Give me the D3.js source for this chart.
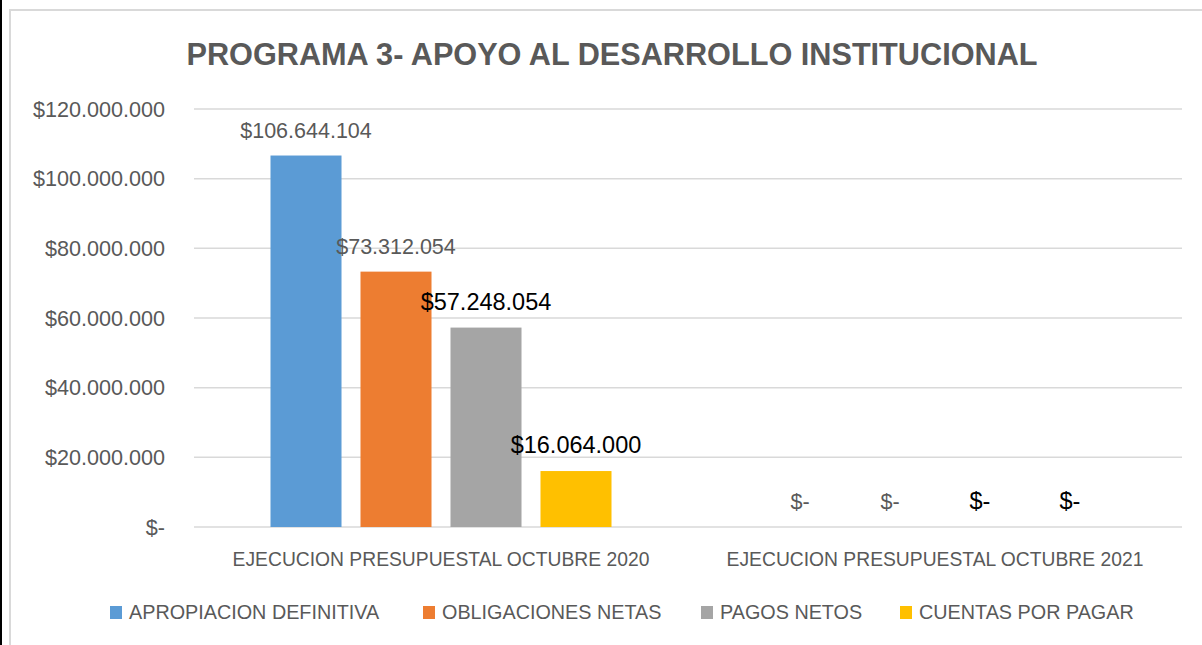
<!DOCTYPE html>
<html lang="es">
<head>
  <meta charset="UTF-8" />
  <title>Programa 3 - Apoyo al Desarrollo Institucional</title>
  <style>
    body {
      margin: 0;
      background: #fff;
      font-family: "Liberation Sans", Arial, sans-serif;
    }
    svg { display: block; }
    .grid line { stroke: #d9d9d9; stroke-width: 1.5px; }
  </style>
</head>
<body>
  <svg width="1202" height="645"></svg>

  <script src="https://d3js.org/d3.v7.min.js"></script>
  <script>
    // data
    const categories = ["EJECUCION PRESUPUESTAL OCTUBRE 2020", "EJECUCION PRESUPUESTAL OCTUBRE 2021"];
    const seriesNames = ["APROPIACION DEFINITIVA", "OBLIGACIONES NETAS", "PAGOS NETOS", "CUENTAS POR PAGAR"];
    const seriesColors = ["#5b9bd5", "#ed7d31", "#a5a5a5", "#ffc000"];
    const apropiacion = [106644104, 0];
    const obligaciones = [73312054, 0];
    const pagos = [57248054, 0];
    const cuentas = [16064000, 0];
    const yTicks = [0, 20000000, 40000000, 60000000, 80000000, 100000000, 120000000];

    const values = [apropiacion, obligaciones, pagos, cuentas];

    const svg = d3.select("svg");

    // chart frame (excel border) + black strip at left edge
    svg.append("rect").attr("x", 0).attr("y", 0).attr("width", 2).attr("height", 645).attr("fill", "#000");
    svg.append("path")
      .attr("d", "M10,645 V10 H1202")
      .attr("fill", "none")
      .attr("stroke", "#d9d9d9")
      .attr("stroke-width", 2);

    const plot = { left: 194, right: 1182, top: 109, bottom: 527 };

    const y = d3.scaleLinear().domain([0, 120000000]).range([plot.bottom, plot.top]);
    const x0 = d3.scaleBand().domain(categories).range([plot.left, plot.right]).padding(0);
    const x1 = d3.scaleBand().domain(seriesNames)
      .range([76.5, x0.bandwidth() - 76.5])
      .paddingInner(0.211).paddingOuter(0);

    const fmt = v => v === 0 ? "$-" : "$" + d3.format(",")(v).replace(/,/g, ".");

    // gridlines
    svg.append("g").attr("class", "grid")
      .selectAll("line").data(yTicks).join("line")
      .attr("x1", plot.left).attr("x2", plot.right)
      .attr("y1", d => y(d)).attr("y2", d => y(d));

    // y axis labels
    svg.append("g")
      .selectAll("text").data(yTicks).join("text")
      .attr("x", 165)
      .attr("y", d => y(d))
      .attr("dy", "0.36em")
      .attr("text-anchor", "end")
      .attr("fill", "#595959")
      .style("font-size", "21.6px")
      .text(d => fmt(d));

    // bars
    const groups = svg.append("g")
      .selectAll("g").data(categories).join("g")
      .attr("transform", d => `translate(${x0(d)},0)`);

    groups.selectAll("rect")
      .data((c, ci) => seriesNames.map((s, si) => ({ s, si, v: values[si][ci] })))
      .join("rect")
      .attr("x", d => x1(d.s))
      .attr("width", x1.bandwidth())
      .attr("y", d => y(d.v))
      .attr("height", d => plot.bottom - y(d.v))
      .attr("fill", d => seriesColors[d.si]);

    // data labels
    groups.selectAll("text")
      .data((c, ci) => seriesNames.map((s, si) => ({ s, si, v: values[si][ci] })))
      .join("text")
      .attr("x", d => x1(d.s) + x1.bandwidth() / 2)
      .attr("y", d => y(d.v) - 18)
      .attr("text-anchor", "middle")
      .attr("fill", d => d.si < 2 ? "#595959" : "#000")
      .style("font-size", d => d.si < 2 ? "21.5px" : "23.5px")
      .text(d => fmt(d.v));

    // category labels
    svg.append("g")
      .selectAll("text").data(categories).join("text")
      .attr("x", d => x0(d) + x0.bandwidth() / 2)
      .attr("y", 566)
      .attr("text-anchor", "middle")
      .attr("fill", "#595959")
      .style("font-size", "19.3px")
      .text(d => d);

    // title
    svg.append("text")
      .attr("x", 612)
      .attr("y", 65)
      .attr("text-anchor", "middle")
      .attr("fill", "#595959")
      .attr("textLength", 851)
      .attr("lengthAdjust", "spacingAndGlyphs")
      .style("font-size", "31px")
      .style("font-weight", "bold")
      .text("PROGRAMA 3- APOYO AL DESARROLLO INSTITUCIONAL");

    // legend
    const legendX = [110, 423, 701, 900];
    const legend = svg.append("g")
      .selectAll("g").data(seriesNames).join("g")
      .attr("transform", (d, i) => `translate(${legendX[i]},606)`);

    legend.append("rect")
      .attr("width", 12).attr("height", 13)
      .attr("fill", (d, i) => seriesColors[i]);

    legend.append("text")
      .attr("x", 19)
      .attr("y", 12.5)
      .attr("fill", "#595959")
      .style("font-size", "19.8px")
      .text(d => d);
  </script>
</body>
</html>
